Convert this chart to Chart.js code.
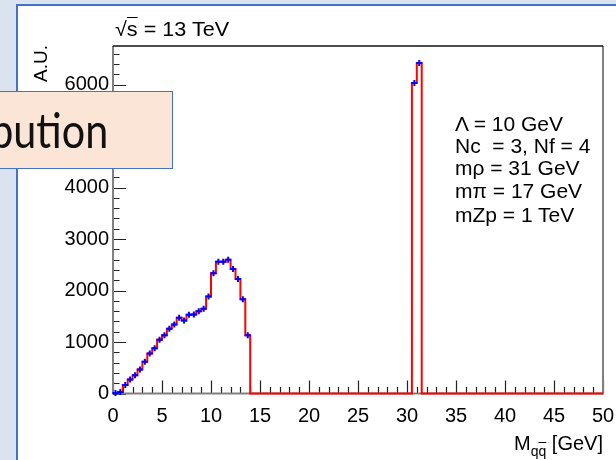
<!DOCTYPE html>
<html>
<head>
<meta charset="utf-8">
<script src="https://cdn.jsdelivr.net/npm/chart.js@4.4.1/dist/chart.umd.min.js"></script>
<style>
  html, body { margin: 0; padding: 0; }
  body { width: 616px; height: 460px; position: relative; overflow: hidden; background: #dbe3f1; font-family: 'Liberation Sans', Arial, sans-serif; }
  #panel { position: absolute; left: 16px; top: 4px; width: 600px; height: 456px; background: #fff; border-left: 2px solid #4472c4; border-top: 2px solid #4472c4; box-sizing: border-box; }
  #chart { position: absolute; left: 0; top: 0; }
  .txt { position: absolute; white-space: pre; color: #000; }
  .leg { left: 455px; font-size: 21px; line-height: 21px; }
  #box { position: absolute; left: -2px; top: 91px; width: 175px; height: 78px; box-sizing: border-box; background: #fbe5d6; border: 1.5px solid #4472c4; overflow: hidden; }
  #box span { position: absolute; right: 64px; top: 14px; font: 48px Lato, 'Open Sans', sans-serif; line-height: 48px; color: #111; transform-origin: right center; transform: scaleX(0.86); }
</style>
</head>
<body>
<div id="panel"></div>
<canvas id="chart" width="616" height="460"></canvas>

<div class="txt" style="left:115px; top:19px; font-size:20px; line-height:20px; transform-origin:left top; transform:scaleX(1.08);">√<span style="border-top:1.5px solid #000;">s</span> = 13 TeV</div>
<div class="txt" style="left:-29px; top:45px; width:60px; text-align:right; font-size:19px; line-height:19px; transform-origin:right top; transform:rotate(-90deg);">A.U.</div>
<div class="txt" style="right:13px; top:433px; font-size:20px; line-height:20px;">M<span style="font-size:14px; vertical-align:-6px;">q<span style="text-decoration:overline;">q</span></span> [GeV]</div>

<div class="txt leg" style="top:113px;">Λ = 10 GeV</div>
<div class="txt leg" style="top:135px;">Nc  = 3, Nf = 4</div>
<div class="txt leg" style="top:157px;">mρ = 31 GeV</div>
<div class="txt leg" style="top:180px;">mπ = 17 GeV</div>
<div class="txt leg" style="top:204px;">mZp = 1 TeV</div>

<div id="box"><span>bution</span></div>

<script>
  // histogram: 0.5 GeV bins
  const BIN_WIDTH = 0.5;
  const lowStart = 0;
  const lowCounts = [
    12, 30, 165, 270, 355, 465, 615, 775, 880, 1045,
    1130, 1260, 1340, 1470, 1420, 1530, 1535, 1600, 1645, 1885,
    2335, 2560, 2560, 2600, 2420, 2225, 1830, 1130
  ];
  const peakStart = 30.5;
  const peakCounts = [6030, 6420];

  const X_MIN = 0, X_MAX = 50, X_STEP = 5, X_MINOR = 1;
  const Y_MIN = 0, Y_MAX = 6750, Y_STEP = 1000, Y_MINOR = 200;
  const yTickValues = [0, 1000, 2000, 3000, 4000, 5000, 6000];

  const FONT = { family: "'Liberation Sans', Arial, sans-serif", size: 20 };

  // step outline from left bin edges (Chart.js stepped 'before' = horizontal first)
  const steps = [];
  lowCounts.forEach((v, i) => steps.push({ x: lowStart + i * BIN_WIDTH, y: v }));
  steps.push({ x: lowStart + lowCounts.length * BIN_WIDTH, y: 0 });
  peakCounts.forEach((v, i) => steps.push({ x: peakStart + i * BIN_WIDTH, y: v }));
  steps.push({ x: peakStart + peakCounts.length * BIN_WIDTH, y: 0 });
  steps.push({ x: X_MAX, y: 0 });

  // bin-centre markers
  const markers = [];
  lowCounts.forEach((v, i) => markers.push({ x: lowStart + (i + 0.5) * BIN_WIDTH, y: v }));
  peakCounts.forEach((v, i) => markers.push({ x: peakStart + (i + 0.5) * BIN_WIDTH, y: v }));

  const frame = {
    id: 'frame',
    beforeDatasetsDraw(chart) {
      const { ctx, chartArea: a, scales: { x, y } } = chart;
      ctx.save();
      ctx.strokeStyle = '#222';
      ctx.lineWidth = 1.2;
      ctx.beginPath();
      for (let v = X_MIN; v <= X_MAX; v += X_MINOR) {
        const px = Math.round(x.getPixelForValue(v)) + 0.5;
        const len = v % X_STEP === 0 ? 13 : 6.5;
        ctx.moveTo(px, a.bottom);
        ctx.lineTo(px, a.bottom - len);
      }
      for (let v = Y_MIN; v < Y_MAX; v += Y_MINOR) {
        const py = Math.round(y.getPixelForValue(v)) + 0.5;
        const len = v % Y_STEP === 0 ? 13 : 6.5;
        ctx.moveTo(a.left, py);
        ctx.lineTo(a.left + len, py);
      }
      ctx.stroke();

      ctx.strokeStyle = '#808080';
      ctx.lineWidth = 2;
      ctx.beginPath();
      ctx.moveTo(a.left, a.top);
      ctx.lineTo(a.left, a.bottom);
      ctx.lineTo(a.right, a.bottom);
      ctx.lineTo(a.right, a.top);
      ctx.stroke();

      ctx.strokeStyle = '#111';
      ctx.lineWidth = 1.5;
      ctx.beginPath();
      ctx.moveTo(a.left, a.top);
      ctx.lineTo(a.right, a.top);
      ctx.stroke();
      ctx.restore();
    }
  };

  new Chart(document.getElementById('chart'), {
    type: 'scatter',
    data: {
      datasets: [
        {
          data: markers,
          order: 0,
          showLine: false,
          pointStyle: 'cross',
          pointRadius: 3,
          borderColor: '#0000ff',
          borderWidth: 2,
          clip: false
        },
        {
          type: 'line',
          data: steps,
          order: 1,
          stepped: 'before',
          pointRadius: 0,
          borderColor: '#ff0000',
          borderWidth: 2,
          fill: false,
          clip: false
        }
      ]
    },
    options: {
      responsive: false,
      animation: false,
      devicePixelRatio: 1,
      layout: { padding: { top: 46, right: 13, left: 0, bottom: 0 } },
      plugins: { legend: { display: false }, tooltip: { enabled: false } },
      scales: {
        x: {
          type: 'linear',
          min: X_MIN, max: X_MAX,
          grid: { display: false, drawTicks: false },
          border: { display: false },
          ticks: { stepSize: X_STEP, includeBounds: false, padding: 11, color: '#000', font: FONT, maxRotation: 0, callback: v => String(v) },
          afterFit: s => { s.height = 66.5; s.paddingLeft = 0; s.paddingRight = 0; }
        },
        y: {
          min: Y_MIN, max: Y_MAX,
          grid: { display: false, drawTicks: false },
          border: { display: false },
          ticks: { padding: 4, color: '#000', font: FONT, callback: v => String(v) },
          afterBuildTicks: s => { s.ticks = yTickValues.map(v => ({ value: v })); },
          afterFit: s => { s.width = 113; s.paddingTop = 0; s.paddingBottom = 0; }
        }
      }
    },
    plugins: [frame]
  });
</script>
</body>
</html>
